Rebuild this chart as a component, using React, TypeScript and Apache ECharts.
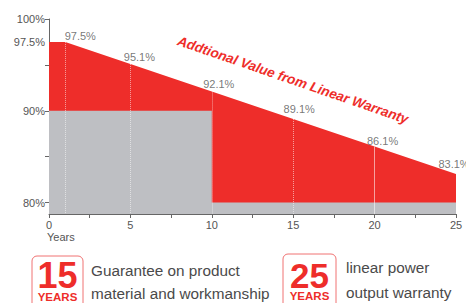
import React, { useEffect, useRef } from "react";
import * as echarts from "echarts";

// ---- data ----
const years = [1, 5, 10, 15, 20, 25];
const linearValues = [97.5, 95.1, 92.1, 89.1, 86.1, 83.1];
const startYear = 0;
const startValue = 97.5;
const guaranteeYears = [0, 10, 10, 25];
const guaranteeValues = [90, 90, 80, 80];
const yLabelValues = [80, 90, 97.5, 100];
const yTickValues = [80, 85, 90, 95, 100];
const xLabelValues = [0, 5, 10, 15, 20, 25];
const xTickValues = [0, 2.5, 5, 7.5, 10, 12.5, 15, 17.5, 20, 22.5, 25];
const annotation = "Addtional Value from Linear Warranty";
const box1 = { num: "15", unit: "YEARS", line1: "Guarantee on product", line2: "material and workmanship" };
const box2 = { num: "25", unit: "YEARS", line1: "linear power", line2: "output warranty" };

// ---- style ----
const RED = "#EE2D2A";
const GREY = "#BEBFC3";
const TEXT = "#555555";
const FONT = "'Liberation Sans', Arial, sans-serif";
const Y_MIN = 78.75;
const labelOffsets: [number, number][] = [
  [15, 1],
  [9, 0],
  [7, 0],
  [6, -3],
  [8, 1],
  [-2, -3],
];

export default function App() {
  const ref = useRef<HTMLDivElement>(null);
  useEffect(() => {
    if (!ref.current) return;
    const chart = echarts.init(ref.current, null, { renderer: "svg" });

    const redData = [[startYear, startValue], ...years.map((y, i) => [y, linearValues[i]])];
    const labelData = years.map((y, i) => ({
      value: [y, linearValues[i]],
      label: {
        show: true,
        position: "top",
        distance: 1,
        offset: labelOffsets[i],
        formatter: linearValues[i] + "%",
        color: TEXT,
        fontSize: 11,
        fontFamily: FONT,
      },
    }));
    const greyData = guaranteeYears.map((y, i) => [y, guaranteeValues[i]]);
    const vLines = years.slice(0, 5).map((y, i) => [
      {
        coord: [y, linearValues[i]],
        lineStyle: {
          color: "rgba(255,255,255,0.55)",
          type: y === 20 ? "solid" : "dotted",
          width: 1,
        },
      },
      { coord: [y, Y_MIN] },
    ]);

    const boxGraphic = (
      b: any,
      left: number,
      top: number,
      w: number,
      numSize: number,
      numMid: number,
      unitMid: number,
      textX: number,
      l1y: number,
      l2y: number
    ) => [
      {
        type: "rect",
        shape: { x: left, y: top, width: w, height: 70, r: 5 },
        style: { fill: "none", stroke: "#F07272", lineWidth: 1 },
      },
      {
        type: "text",
        x: left + w / 2,
        y: numMid,
        style: {
          text: b.num,
          font: `bold ${numSize}px ${FONT}`,
          lineHeight: 26,
          fill: RED,
          align: "center",
          verticalAlign: "middle",
        },
      },
      {
        type: "text",
        x: left + w / 2,
        y: unitMid,
        style: {
          text: b.unit,
          font: `bold 11.5px ${FONT}`,
          lineHeight: 10,
          fill: RED,
          align: "center",
          verticalAlign: "middle",
        },
      },
      {
        type: "text",
        x: textX,
        y: l1y,
        style: { text: b.line1, font: `15.3px ${FONT}`, fill: "#4a4a4a", align: "left", verticalAlign: "middle" },
      },
      {
        type: "text",
        x: textX,
        y: l2y,
        style: { text: b.line2, font: `15.3px ${FONT}`, fill: "#4a4a4a", align: "left", verticalAlign: "middle" },
      },
    ];

    chart.setOption({
      animation: false,
      grid: { left: 49, right: 10, top: 19, bottom: 89, containLabel: false },
      xAxis: {
        type: "value",
        min: 0,
        max: 25,
        axisLine: { show: true, lineStyle: { color: "#666", width: 1 } },
        axisTick: { show: true, length: 4, customValues: xTickValues, lineStyle: { color: "#666" } },
        axisLabel: {
          customValues: xLabelValues,
          color: TEXT,
          fontSize: 11,
          fontFamily: FONT,
          margin: 5,
        },
        splitLine: { show: false },
      },
      yAxis: {
        type: "value",
        min: Y_MIN,
        max: 100,
        axisLine: { show: true, lineStyle: { color: "#666", width: 1 } },
        axisTick: { show: true, length: 4, customValues: yTickValues, lineStyle: { color: "#666" } },
        axisLabel: {
          customValues: yLabelValues,
          formatter: (v: number) => v + "%",
          color: TEXT,
          fontSize: 11,
          fontFamily: FONT,
          margin: 4,
        },
        splitLine: { show: false },
      },
      series: [
        {
          type: "line",
          data: redData,
          symbol: "none",
          lineStyle: { width: 0, color: RED },
          itemStyle: { color: RED },
          areaStyle: { color: RED, opacity: 1, origin: "start" },
          z: 2,
        },
        {
          type: "line",
          data: greyData,
          symbol: "none",
          lineStyle: { width: 0, color: GREY },
          itemStyle: { color: GREY },
          areaStyle: { color: GREY, opacity: 1, origin: "start" },
          markLine: {
            silent: true,
            symbol: ["none", "none"],
            label: { show: false },
            data: vLines,
          },
          z: 3,
        },
        {
          type: "scatter",
          data: labelData,
          symbolSize: 1,
          itemStyle: { color: "rgba(0,0,0,0)" },
          label: { show: true, color: TEXT, fontSize: 11, fontFamily: FONT },
          silent: true,
          z: 4,
        },
      ],
      graphic: [
        {
          type: "text",
          x: 47,
          y: 231,
          style: { text: "Years", font: `11px ${FONT}`, fill: TEXT, align: "left", verticalAlign: "top" },
        },
        {
          type: "text",
          x: 293,
          y: 80,
          rotation: (-19 * Math.PI) / 180,
          style: {
            text: annotation,
            font: `italic bold 13.6px ${FONT}`,
            fill: RED,
            align: "center",
            verticalAlign: "middle",
          },
        },
        ...boxGraphic(box1, 32, 256, 51, 36, 275, 297, 91, 270, 293),
        ...boxGraphic(box2, 283, 254, 53, 35, 275.5, 296.3, 346, 267, 292),
      ],
    });
    return () => chart.dispose();
  }, []);
  return (
    <div
      ref={ref}
      style={{ position: "absolute", left: 0, top: 0, width: 466, height: 303, background: "#fff" }}
    />
  );
}
